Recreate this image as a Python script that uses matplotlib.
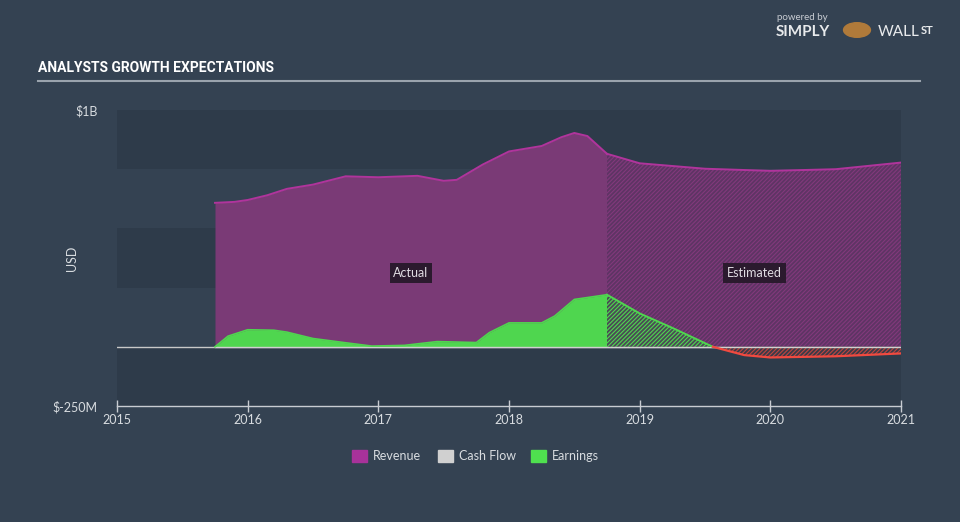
import numpy as np
import matplotlib
matplotlib.use("Agg")
import matplotlib.pyplot as plt
from matplotlib.patches import Rectangle

plt.rcParams['font.family'] = ['Lato', 'DejaVu Sans']
plt.rcParams['hatch.linewidth'] = 0.8

# data (values in $M, x in decimal years)
rev_x = [2015.75, 2015.9, 2016.0, 2016.15, 2016.3, 2016.5, 2016.75, 2017.0, 2017.3,
         2017.5, 2017.6, 2017.8, 2018.0, 2018.25, 2018.4, 2018.5, 2018.6, 2018.75]
rev_y = [608, 612, 620, 640, 667, 685, 720, 716, 722, 701, 705, 770, 825, 848, 885, 903, 890, 815]
rev_est_x = [2018.75, 2019.0, 2019.5, 2020.0, 2020.5, 2021.0]
rev_est_y = [815, 775, 752, 743, 750, 778]

earn_x = [2015.75, 2015.85, 2016.0, 2016.2, 2016.3, 2016.5, 2016.75, 2016.95, 2017.2,
          2017.45, 2017.75, 2017.85, 2018.0, 2018.25, 2018.35, 2018.5, 2018.75]
earn_y = [0, 45, 72, 70, 62, 35, 17, 3, 6, 22, 18, 60, 101, 101, 130, 200, 220]
earn_est_x = [2018.75, 2019.0, 2019.25, 2019.56, 2019.8, 2020.0, 2020.5, 2021.0]
earn_est_y = [220, 141, 80, 0, -35, -45, -40, -28]

cash_x = [2015.75, 2021.0]
cash_y = [0, 0]

bg = '#344252'
band_dark = '#2e3b4a'

fig = plt.figure(figsize=(9.6, 5.22), dpi=100, facecolor=bg)
ax = fig.add_axes([117/960, 1-406/522, 784/960, 296/522])
ax.set_facecolor(bg)
ax.set_xlim(2015, 2021)
ax.set_ylim(-250, 1000)

# alternating bands
for lo in [-250, 250, 750]:
    ax.axhspan(lo, lo + 250, color=band_dark, lw=0, zorder=0)

# revenue actual
ax.fill_between(rev_x, 0, rev_y, color='#7a3a76', lw=0, zorder=1)
ax.plot(rev_x, rev_y, color='#b0349c', lw=1.4, zorder=3)
# revenue estimated (hatched)
ax.fill_between(rev_est_x, 0, rev_est_y, facecolor='#5e3464', edgecolor='#82397c',
                hatch='////////', lw=0, zorder=1)
ax.plot(rev_est_x, rev_est_y, color='#b0349c', lw=1.4, zorder=3)

# earnings actual
ax.fill_between(earn_x, 0, earn_y, color='#4fd64f', lw=0, zorder=2)
ax.plot(earn_x, earn_y, color='#4fd64f', lw=1.2, zorder=3)
# earnings estimated
ex = np.array(earn_est_x)
ey = np.array(earn_est_y)
ax.fill_between(ex, 0, ey, where=ey >= 0, interpolate=True, facecolor='#4a4a55',
                edgecolor='#4fd64f', hatch='////////', lw=0, zorder=2)
ax.fill_between(ex, 0, ey, where=ey <= 0, interpolate=True, facecolor='#3a3a48',
                edgecolor='#c0443f', hatch='////////', lw=0, zorder=2)
ax.plot(ex[:4], ey[:4], color='#4fd64f', lw=1.4, zorder=3)
ax.plot(ex[3:], ey[3:], color='#f04a40', lw=1.6, zorder=3)

# cash flow around zero
ax.plot(cash_x, cash_y, color='#d0d0d0', lw=1.0, zorder=2)
ax.axhline(0, color='#c8c8c8', lw=1.0, zorder=1.5)

# labels
ax.text(2017.25, 312, 'Actual', color='#e0dce2', fontsize=9, ha='center', va='center',
        bbox=dict(boxstyle='square,pad=0.3', fc='#2b1a2e', ec='none'), zorder=5)
ax.text(2019.88, 312, 'Estimated', color='#e0dce2', fontsize=9, ha='center', va='center',
        bbox=dict(boxstyle='square,pad=0.3', fc='#2b1a2e', ec='none'), zorder=5)

# axes styling
for s in ['top', 'right', 'left']:
    ax.spines[s].set_visible(False)
ax.spines['bottom'].set_color('#c8ccd2')
ax.spines['bottom'].set_linewidth(1.0)
ax.set_xticks([2015, 2016, 2017, 2018, 2019, 2020, 2021])
ax.set_xticklabels(['2015', '2016', '2017', '2018', '2019', '2020', '2021'])
ax.tick_params(axis='x', colors='#c8ccd2', labelcolor='#d8dce0', labelsize=9,
               direction='inout', length=8, width=1, pad=2)
ax.set_yticks([-250, 1000])
ax.set_yticklabels(['$-250M', '$1B'])
ax.tick_params(axis='y', length=0, labelcolor='#d8dce0', labelsize=9, pad=14)
ax.set_ylabel('USD', color='#d8dce0', fontsize=9)
ax.yaxis.set_label_coords(-0.05, 0.5)

# title and rule
fig.text(38/960, 1-68/522, 'ANALYSTS GROWTH EXPECTATIONS', color='white', fontsize=10,
         fontweight='bold', va='center', ha='left', family=['Roboto', 'DejaVu Sans'])
fig.add_artist(plt.Line2D([38/960, 920/960], [1-81/522, 1-81/522], color='#9aa3ad', lw=1.5))

# logo text
fig.text(777/960, 1-18/522, 'powered by', color='#c8ccd2', fontsize=7, ha='left', va='center')
fig.text(776/960, 1-32/522, 'SIMPLY', color='#e8eaec', fontsize=11, fontweight='bold',
         ha='left', va='center')
fig.text(878/960, 1-32/522, 'WALL', color='#e8eaec', fontsize=11, ha='left', va='center')
fig.text(921/960, 1-30/522, 'ST', color='#e8eaec', fontsize=8, fontweight='bold',
         ha='left', va='center')
fig.add_artist(plt.Circle((857/960, 1-30/522), 0.014, color='#b07a3a', transform=fig.transFigure))

# legend
labels = ['Revenue', 'Cash Flow', 'Earnings']
colors = ['#a8329a', '#d0d0d0', '#4fe04f']
lx = [352, 438, 531]
for x0, lab, c in zip(lx, labels, colors):
    fig.add_artist(Rectangle((x0/960, 1-462/522), 15/960, 12/522, color=c,
                             transform=fig.transFigure))
    fig.text((x0+21)/960, 1-456/522, lab, color='#d8dce0', fontsize=9, ha='left', va='center')

fig.savefig('out.png', dpi=100, facecolor=bg)
